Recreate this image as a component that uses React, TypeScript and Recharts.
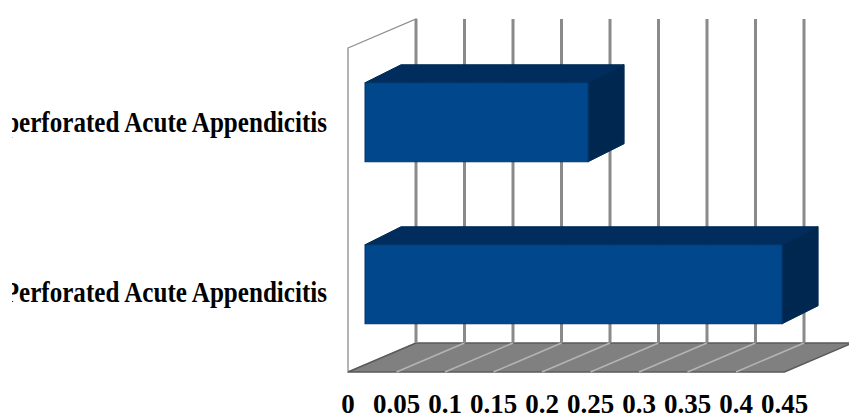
import { BarChart, Bar, XAxis, YAxis, CartesianGrid } from 'recharts';

const CATEGORIES = ['Non-perforated Acute Appendicitis', 'Perforated Acute Appendicitis'];
const VALUES = [0.23, 0.43];
const X_TICKS = [0, 0.05, 0.1, 0.15, 0.2, 0.25, 0.3, 0.35, 0.4, 0.45];

const data = CATEGORIES.map((name, i) => ({ name, value: VALUES[i] }));

// front plane of the 3d box
const PLOT = { left: 348, top: 48, right: 784.5, bottom: 372 };
// offset from front plane to back wall
const DEPTH = { dx: 68, dy: -29 };
// bars sit a quarter of the way into the box
const BAR_SHIFT = { dx: 17, dy: -7.25 };
const BAR_DEPTH = { dx: 36, dy: -18 };

const FONT = '"Liberation Serif", "Times New Roman", serif';

const pts = (arr: number[][]) => arr.map((p) => p.join(',')).join(' ');

// side wall + floor, drawn once underneath the first grid line
function Box() {
    const { left, top, right, bottom } = PLOT;
    const { dx, dy } = DEPTH;
    return (
        <>
            <polygon
                points={pts([[left, top], [left + dx, top + dy], [left + dx, bottom + dy], [left, bottom]])}
                fill="#ffffff"
                stroke="#8c8c8c"
                strokeWidth={1.3}
            />
            <polygon
                points={pts([[left, bottom], [right, bottom], [right + dx, bottom + dy], [left + dx, bottom + dy]])}
                fill="#808080"
                stroke="#5a5a5a"
                strokeWidth={1.5}
            />
        </>
    );
}

// vertical grid: a line across the floor plus a line up the back wall
function GridLine(props: any) {
    const { x1, y1, y2, index } = props;
    const { dx, dy } = DEPTH;
    const last = X_TICKS.length - 1;
    return (
        <g key={`grid-${index}`}>
            {index === 0 && <Box />}
            {index > 0 && index < last && (
                <line x1={x1} y1={y2} x2={x1 + dx} y2={y2 + dy} stroke="#b4b4b4" strokeWidth={1.5} />
            )}
            <line x1={x1 + dx} y1={y1 + dy} x2={x1 + dx} y2={y2 + dy} stroke="#8a8a8a" strokeWidth={3} />
        </g>
    );
}

function Bar3D(props: any) {
    const { x, y, width, height } = props;
    const fx = x + BAR_SHIFT.dx;
    const fy = y + BAR_SHIFT.dy;
    const { dx, dy } = BAR_DEPTH;
    return (
        <g>
            <polygon
                points={pts([[fx, fy], [fx + width, fy], [fx + width + dx, fy + dy], [fx + dx, fy + dy]])}
                fill="#002d5e"
                stroke="#002a55"
                strokeWidth={1}
            />
            <polygon
                points={pts([[fx + width, fy], [fx + width + dx, fy + dy], [fx + width + dx, fy + height + dy], [fx + width, fy + height]])}
                fill="#00274f"
                stroke="#002a55"
                strokeWidth={1}
            />
            <rect x={fx} y={fy} width={width} height={height} fill="#00478c" stroke="#003466" strokeWidth={1} />
        </g>
    );
}

const LABEL_NUDGE = [3, 11];

function CategoryTick(props: any) {
    const { y, payload, index } = props;
    const clipId = `label-clip-${index}`;
    return (
        <g>
            <clipPath id={clipId}>
                <rect x={12} y={0} width={400} height={418} />
            </clipPath>
            <g clipPath={`url(#${clipId})`}>
                <text
                    transform={`translate(327,${y + LABEL_NUDGE[index]}) scale(0.865,1)`}
                    textAnchor="end"
                    fontFamily={FONT}
                    fontWeight="bold"
                    fontSize={29}
                    fill="#000000"
                >
                    {payload.value}
                </text>
            </g>
        </g>
    );
}

function ValueTick(props: any) {
    const { x, payload } = props;
    return (
        <text x={x} y={413} textAnchor="middle" fontFamily={FONT} fontWeight="bold" fontSize={27} fill="#000000">
            {String(payload.value)}
        </text>
    );
}

export default function App() {
    return (
        <div style={{ position: 'fixed', left: 0, top: 0, width: 849, height: 418, background: '#ffffff' }}>
            <BarChart
                width={849}
                height={418}
                data={data}
                layout="vertical"
                barSize={79}
                margin={{ top: PLOT.top, right: 849 - PLOT.right, bottom: 16, left: 0 }}
            >
                <CartesianGrid horizontal={false} vertical={GridLine} />
                <XAxis
                    type="number"
                    domain={[0, 0.45]}
                    ticks={X_TICKS}
                    interval={0}
                    axisLine={false}
                    tickLine={false}
                    height={30}
                    tick={<ValueTick />}
                />
                <YAxis
                    type="category"
                    dataKey="name"
                    width={PLOT.left}
                    axisLine={false}
                    tickLine={false}
                    tick={<CategoryTick />}
                />
                <Bar dataKey="value" shape={<Bar3D />} isAnimationActive={false} />
            </BarChart>
        </div>
    );
}
